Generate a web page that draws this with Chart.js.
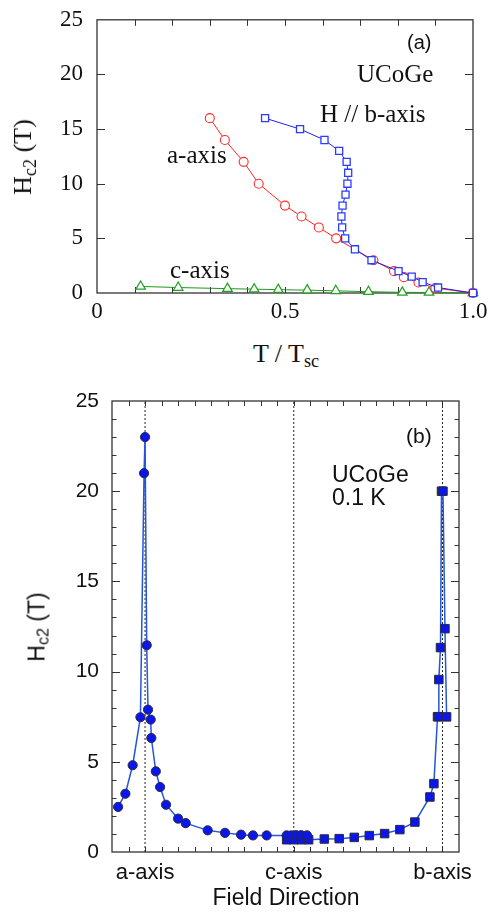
<!DOCTYPE html>
<html>
<head>
<meta charset="utf-8">
<title>UCoGe Hc2</title>
<script src="https://cdn.jsdelivr.net/npm/chart.js@4.4.1/dist/chart.umd.min.js"></script>
<style>
  body { margin: 0; background: #fff; }
  #page { position: relative; width: 488px; height: 919px; overflow: hidden; }
  canvas { position: absolute; left: 0; }
  #topChart { top: 0; }
  #botChart { top: 380px; }
  .t { position: absolute; white-space: nowrap; line-height: 1; color: #111; }
  .serif { font-family: 'Liberation Serif', 'DejaVu Serif', serif; }
  .sans { font-family: 'Liberation Sans', Arial, sans-serif; }
  .rot { transform: translate(-50%, -50%) rotate(-90deg); }
  .ctr { transform: translateX(-50%); }
  sub { font-size: 70%; vertical-align: -0.25em; line-height: 0; }
</style>
</head>
<body>
<div id="page">
  <canvas id="topChart" width="488" height="335"></canvas>
  <canvas id="botChart" width="488" height="539"></canvas>

  <!-- panel (a) texts -->
  <div class="t serif rot" style="left:23px;top:157px;font-size:26px">H<sub>c2</sub> (T)</div>
  <div class="t serif ctr" style="left:286px;top:341px;font-size:26px">T / T<sub>sc</sub></div>
  <div class="t sans" style="left:407px;top:32px;font-size:20px">(a)</div>
  <div class="t serif" style="left:357px;top:61px;font-size:25px">UCoGe</div>
  <div class="t serif" style="left:320px;top:101px;font-size:25px">H // b-axis</div>
  <div class="t serif" style="left:167px;top:142px;font-size:25px">a-axis</div>
  <div class="t serif" style="left:170px;top:257px;font-size:25px">c-axis</div>

  <!-- panel (b) texts -->
  <div class="t sans rot" style="left:37px;top:627px;font-size:23px">H<sub>c2</sub> (T)</div>
  <div class="t sans ctr" style="left:286px;top:886px;font-size:23px">Field Direction</div>
  <div class="t sans" style="left:406px;top:425px;font-size:21px">(b)</div>
  <div class="t sans" style="left:332px;top:463px;font-size:23px">UCoGe</div>
  <div class="t sans" style="left:332px;top:486px;font-size:23px">0.1 K</div>
</div>

<script>
// ---- panel (a): Hc2 vs T/Tsc ----
const aAxisT = [0.30, 0.34, 0.39, 0.43, 0.50, 0.544, 0.59, 0.636, 0.735, 0.79, 0.816, 0.855, 0.90, 1.0];
const aAxisH = [16, 14, 12, 10, 8, 7, 6, 5, 3, 2, 1.45, 0.96, 0.45, 0];

const bAxisT = [0.447, 0.540, 0.605, 0.644, 0.664, 0.668, 0.666, 0.661, 0.653, 0.650, 0.652, 0.660, 0.686, 0.730, 0.802, 0.837, 0.866, 0.907, 1.0];
const bAxisH = [16, 15, 14, 13, 12, 11, 10, 9, 8, 7, 6, 5, 4, 3, 2, 1.5, 1, 0.5, 0];

const cAxisT = [0.116, 0.216, 0.347, 0.418, 0.482, 0.559, 0.635, 0.722, 0.812, 0.883, 1.0];
const cAxisH = [0.6, 0.5, 0.4, 0.35, 0.31, 0.26, 0.2, 0.12, 0.06, 0.05, 0];

const tTicks = [0, 0.5, 1.0];
const tTickText = ['0', '0.5', '1.0'];
const hTicksA = [0, 5, 10, 15, 20, 25];

// ---- panel (b): Hc2 vs field direction (deg, a=0, c=90, b=180) ----
const circAngle = [-16.3, -11.9, -7.5, -2.8, -0.6, 0, 1.0, 1.8, 3.4, 3.8, 6.5, 9.1, 12.7, 20, 24.6, 37.9, 48.4, 58.1, 65.3, 73.6, 85.7, 88.6, 91.5, 94.5, 98.0];
const circH = [2.5, 3.23, 4.81, 7.47, 21.0, 23.0, 11.46, 7.89, 7.34, 6.32, 4.47, 3.6, 2.62, 1.85, 1.6, 1.2, 1.06, 0.96, 0.92, 0.92, 0.92, 0.92, 0.93, 0.93, 0.92];

const sqAngle = [85.7, 90, 94.6, 99, 108.5, 117.5, 126.6, 135.7, 145, 154.2, 163.3, 172.4, 174.8, 177.0, 177.6, 177.8, 178.8, 179.4, 180.3, 181.5, 182.5];
const sqH = [0.68, 0.68, 0.68, 0.68, 0.72, 0.74, 0.81, 0.91, 1.02, 1.24, 1.66, 3.05, 3.79, 7.5, 7.5, 9.56, 11.33, 20.0, 20.0, 12.38, 7.49];

const dirTicks = [0, 90, 180];
const dirTickText = ['a-axis', 'c-axis', 'b-axis'];
const hTicksB = [0, 5, 10, 15, 20, 25];

function pts(xs, ys) {
  return xs.map((x, i) => ({ x: x, y: ys[i] }));
}

// inward ticks on all four sides + box frame
const frameTicks = {
  id: 'frameTicks',
  beforeDatasetsDraw(chart, args, o) {
    const { ctx, chartArea: a, scales } = chart;
    const xs = scales.x, ys = scales.y;
    ctx.save();
    ctx.strokeStyle = '#333';
    ctx.lineWidth = 1;
    ctx.beginPath();
    o.x.forEach(t => {
      const n = Math.round((xs.max - xs.min) / t.step);
      for (let i = 1; i < n; i++) {
        const px = Math.round(xs.getPixelForValue(xs.min + i * t.step)) + 0.5;
        ctx.moveTo(px, a.bottom); ctx.lineTo(px, a.bottom - t.len);
        ctx.moveTo(px, a.top); ctx.lineTo(px, a.top + t.len);
      }
    });
    o.y.forEach(t => {
      const n = Math.round((ys.max - ys.min) / t.step);
      for (let i = 1; i < n; i++) {
        const py = Math.round(ys.getPixelForValue(ys.min + i * t.step)) + 0.5;
        ctx.moveTo(a.left, py); ctx.lineTo(a.left + t.len, py);
        ctx.moveTo(a.right, py); ctx.lineTo(a.right - t.len, py);
      }
    });
    ctx.stroke();
    ctx.lineWidth = 1.3;
    ctx.strokeRect(a.left, a.top, a.right - a.left, a.bottom - a.top);
    ctx.restore();
  }
};

const serif = "'Liberation Serif', 'DejaVu Serif', serif";
const sans = "'Liberation Sans', Arial, sans-serif";

new Chart(document.getElementById('topChart'), {
  type: 'scatter',
  data: {
    datasets: [
      {
        data: pts(bAxisT, bAxisH), showLine: true, clip: false,
        borderColor: '#2020e8', borderWidth: 1,
        pointStyle: 'rect', pointRadius: 5, pointBorderWidth: 1.3,
        pointBorderColor: '#2a3cff', pointBackgroundColor: '#fff'
      },
      {
        data: pts(aAxisT, aAxisH), showLine: true, clip: false,
        borderColor: '#ff2020', borderWidth: 1,
        pointStyle: 'circle', pointRadius: 4.5, pointBorderWidth: 1.1,
        pointBorderColor: '#ff2a2a', pointBackgroundColor: '#fff'
      },
      {
        data: pts(cAxisT, cAxisH), showLine: true, clip: false,
        borderColor: '#1c9a1c', borderWidth: 1,
        pointStyle: 'triangle', pointRadius: 5.5, pointBorderWidth: 1.2,
        pointBorderColor: '#22a022', pointBackgroundColor: '#fff'
      }
    ]
  },
  options: {
    responsive: false,
    animation: false,
    events: [],
    layout: { padding: { top: 17, right: 15, left: 0, bottom: 0 } },
    plugins: {
      legend: { display: false },
      tooltip: { enabled: false },
      frameTicks: {
        x: [{ step: 0.1, len: 6 }],
        y: [{ step: 5, len: 8 }]
      }
    },
    scales: {
      x: {
        type: 'linear', min: 0, max: 1,
        grid: { display: false }, border: { display: false },
        afterBuildTicks: s => { s.ticks = tTicks.map(v => ({ value: v })); },
        afterFit: s => { s.height = 42; },
        ticks: {
          autoSkip: false, maxRotation: 0, padding: -3, color: '#111',
          font: { family: serif, size: 23 },
          callback: (v, i) => tTickText[i]
        }
      },
      y: {
        type: 'linear', min: 0, max: 25,
        grid: { display: false }, border: { display: false },
        afterBuildTicks: s => { s.ticks = hTicksA.map(v => ({ value: v })); },
        afterFit: s => { s.width = 97; },
        ticks: {
          padding: 6, color: '#111',
          font: { family: serif, size: 23 }
        }
      }
    }
  },
  plugins: [frameTicks]
});

new Chart(document.getElementById('botChart'), {
  type: 'scatter',
  data: {
    datasets: [
      {
        data: pts(circAngle, circH), showLine: true, clip: false,
        borderColor: '#2456dc', borderWidth: 1.5,
        pointStyle: 'circle', pointRadius: 4.6, pointBorderWidth: 1,
        pointBorderColor: '#2a2a3a', pointBackgroundColor: '#0a16ec'
      },
      {
        data: pts(sqAngle, sqH), showLine: true, clip: false,
        borderColor: '#2456dc', borderWidth: 1.5,
        pointStyle: 'rect', pointRadius: 6, pointBorderWidth: 1,
        pointBorderColor: '#2a2a3a', pointBackgroundColor: '#0a16ec'
      },
      ...dirTicks.map(d => ({
        data: [{ x: d, y: 0 }, { x: d, y: 25 }], showLine: true,
        borderColor: '#222', borderWidth: 1, borderDash: [2, 2], pointRadius: 0
      }))
    ]
  },
  options: {
    responsive: false,
    animation: false,
    events: [],
    layout: { padding: { top: 21, right: 29, left: 0, bottom: 0 } },
    plugins: {
      legend: { display: false },
      tooltip: { enabled: false },
      frameTicks: {
        x: [{ step: 10, len: 5 }],
        y: [{ step: 1, len: 4.5 }, { step: 5, len: 8 }]
      }
    },
    scales: {
      x: {
        type: 'linear', min: -20, max: 190,
        grid: { display: false }, border: { display: false },
        afterBuildTicks: s => { s.ticks = dirTicks.map(v => ({ value: v })); },
        afterFit: s => { s.height = 67; },
        ticks: {
          autoSkip: false, maxRotation: 0, padding: 0, color: '#111',
          font: { family: sans, size: 22 },
          callback: (v, i) => dirTickText[i]
        }
      },
      y: {
        type: 'linear', min: 0, max: 25,
        grid: { display: false }, border: { display: false },
        afterBuildTicks: s => { s.ticks = hTicksB.map(v => ({ value: v })); },
        afterFit: s => { s.width = 112; },
        ticks: {
          padding: 5, color: '#111',
          font: { family: sans, size: 21 }
        }
      }
    }
  },
  plugins: [frameTicks]
});
</script>
</body>
</html>
